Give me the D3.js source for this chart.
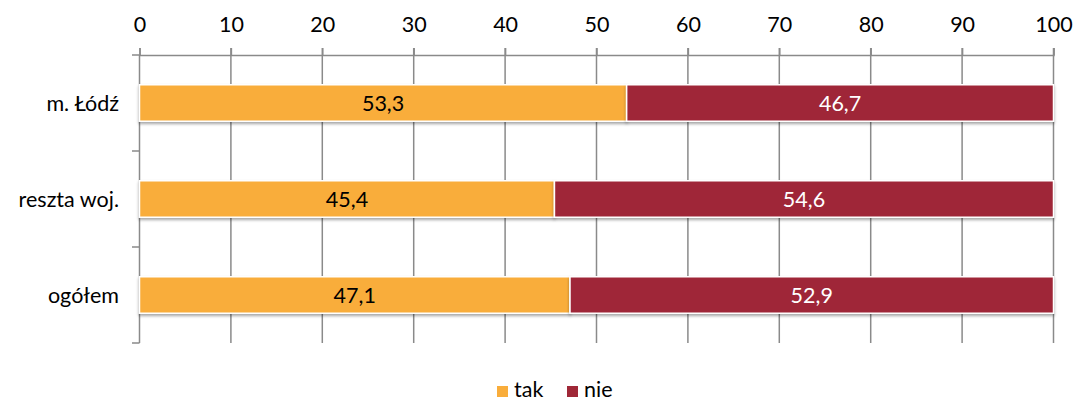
<!DOCTYPE html>
<html><head><meta charset="utf-8">
<script src="https://cdn.jsdelivr.net/npm/d3@7"></script>
<style>body{margin:0;background:#fff}svg text{font-family:Lato,"Open Sans",sans-serif}</style>
</head><body><svg id="c" width="1074" height="403"></svg>
<script>
const categories = ["m. Łódź", "reszta woj.", "ogółem"];
const tak = [53.3, 45.4, 47.1];
const nie = [46.7, 54.6, 52.9];
const seriesNames = ["tak", "nie"];
const seriesColors = ["#F9AD3B", "#9F2837"];
const xTicks = [0,10,20,30,40,50,60,70,80,90,100];

const svg = d3.select("#c");
const x = d3.scaleLinear().domain([0,100]).range([139.5,1053.5]);
const y = d3.scaleBand().domain(categories).range([55,343]).paddingInner(0.62).paddingOuter(0.31);
const fmt = v => v.toFixed(1).replace(".", ",");
const FS = 21.5;

const defs = svg.append("defs");
const f = defs.append("filter").attr("id","sh").attr("x","-5%").attr("y","-20%").attr("width","110%").attr("height","160%");
f.append("feDropShadow").attr("dx",0).attr("dy",2).attr("stdDeviation",1.5).attr("flood-color","#000").attr("flood-opacity",0.35);

// gridlines
svg.append("g").selectAll("line").data(xTicks.slice(1)).join("line")
  .attr("x1",d=>x(d)).attr("x2",d=>x(d)).attr("y1",48).attr("y2",343)
  .attr("stroke","#8a8a8a").attr("stroke-width",1.5);

// top axis
const ax = svg.append("g").attr("transform","translate(0,55)")
  .call(d3.axisTop(x).tickValues(xTicks).tickSize(7).tickPadding(16).tickFormat(d=>d));
ax.select(".domain").attr("stroke","#8a8a8a").attr("stroke-width",1.5);
ax.selectAll(".tick line").attr("stroke","#8a8a8a").attr("stroke-width",1.5);
ax.selectAll("text").attr("font-size",FS).attr("fill","#000");

// left axis
const bounds = [55, 55+96, 55+192, 343];
svg.append("line").attr("x1",139.5).attr("x2",139.5).attr("y1",55).attr("y2",343).attr("stroke","#8a8a8a").attr("stroke-width",1.5);
svg.append("g").selectAll("line").data(bounds).join("line")
  .attr("x1",132).attr("x2",139.5).attr("y1",d=>d).attr("y2",d=>d).attr("stroke","#8a8a8a").attr("stroke-width",1.5);
svg.append("g").selectAll("text").data(categories).join("text")
  .attr("x",119).attr("y",d=>y(d)+y.bandwidth()/2).attr("dy","0.35em")
  .attr("text-anchor","end").attr("font-size",FS).attr("fill","#000").text(d=>d);

// bars
const rows = categories.map((c,i)=>({c, vals:[tak[i], nie[i]]}));
const g = svg.append("g");
rows.forEach(r=>{
  let acc = 0;
  r.vals.forEach((v,j)=>{
    const x0 = x(acc), x1 = x(acc+v);
    g.append("rect").attr("x",x0).attr("y",y(r.c)).attr("width",x1-x0).attr("height",y.bandwidth())
      .attr("fill",seriesColors[j]).attr("stroke","#fff").attr("stroke-width",1.5).attr("filter","url(#sh)");
    g.append("text").attr("x",(x0+x1)/2).attr("y",y(r.c)+y.bandwidth()/2).attr("dy","0.35em")
      .attr("text-anchor","middle").attr("font-size",FS).attr("fill",j===0?"#000":"#fff").text(fmt(v));
    acc += v;
  });
});

// legend
const lg = svg.append("g");
const lx = [497, 567];
seriesNames.forEach((n,i)=>{
  lg.append("rect").attr("x",lx[i]).attr("y",386).attr("width",11).attr("height",11).attr("fill",seriesColors[i]);
  lg.append("text").attr("x",lx[i]+17).attr("y",397).attr("font-size",FS).attr("fill","#000").text(n);
});
</script></body></html>
